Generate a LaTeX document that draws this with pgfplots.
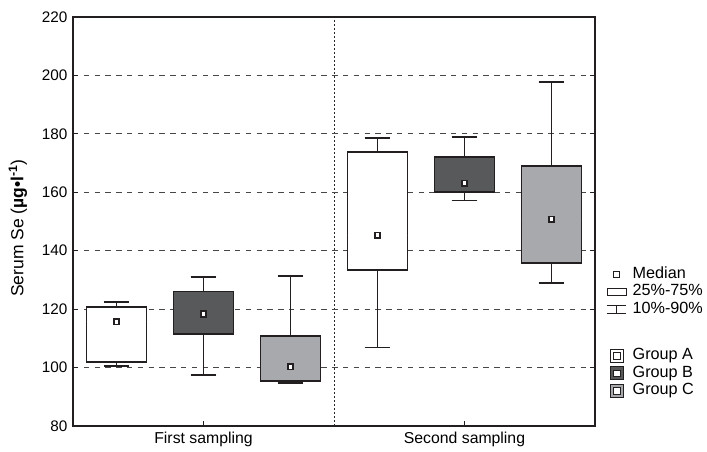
\documentclass[border=0pt]{standalone}
\usepackage{fontspec}
\setmainfont{Liberation Sans}
\usepackage{pgfplots}
\pgfplotsset{compat=1.18}
\usepgfplotslibrary{statistics}
\definecolor{gB}{HTML}{58595B}
\definecolor{gC}{HTML}{A7A9AC}
\definecolor{ink}{HTML}{231F20}
\begin{document}
\begin{tikzpicture}[font=\fontsize{15}{17}\selectfont]
\begin{axis}[
  name=ax,
  scale only axis, width=522pt, height=409pt,
  xmin=0, xmax=6, ymin=80, ymax=220,
  axis line style={ink, line width=1.5pt},
  xtick={1.5,4.5}, xticklabels={First sampling, Second sampling},
  xtick pos=bottom, x tick style={ink, line width=0.8pt},
  x tick label style={font=\fontsize{15.8}{17}\selectfont, yshift=-3pt},
  ytick={80,100,...,220}, ytick pos=both, y tick style={ink, line width=0.8pt},
  y tick label style={font=\fontsize{15.3}{17}\selectfont, xshift=-2pt},
  tick align=inside, major tick length=5pt,
  /pgf/number format/assume math mode=true,
  extra y ticks={100,120,...,200},
  extra y tick labels={},
  extra y tick style={grid=major, major grid style={black!72, line width=0.9pt, dash pattern=on 5.4pt off 5.4pt}},
  extra x ticks={3}, extra x tick labels={},
  extra x tick style={grid=major, major grid style={black!85, line width=0.8pt, dash pattern=on 1.5pt off 2.5pt}, major tick length=0pt},
  ylabel={Serum Se (\textbf{µg•l}\textsuperscript{\textbf{-1}})},
  ylabel style={font=\fontsize{17.5}{19}\selectfont, at={(axis description cs:-0.1054,0.484)}, anchor=center},
  boxplot/draw direction=y,
  boxplot/box extend=0.69,
  boxplot/whisker extend=0.295,
  boxplot/every median/.style={draw=none},
  legend style={draw=none, fill=none, at={(1,0.389)}, anchor=north west, xshift=11pt,
    inner sep=0pt, row sep=3pt, column sep=0pt,
    font=\fontsize{16.2}{18}\selectfont,
    nodes={inner sep=0pt, text height=11pt, text depth=3.5pt},
    /tikz/every odd column/.append style={column sep=6pt}},
  legend cell align=left,
]
% First sampling
\addplot[forget plot, boxplot prepared={draw position=0.5, lower whisker=100.5, lower quartile=102.0, median=115.7, upper quartile=120.8, upper whisker=122.4}, fill=white, draw=ink, line width=1.75pt, solid] coordinates {};
\addplot[forget plot, boxplot prepared={draw position=1.5, lower whisker=97.4, lower quartile=111.5, median=118.3, upper quartile=126.0, upper whisker=131.1}, fill=gB, draw=ink, line width=1.75pt, solid] coordinates {};
\addplot[forget plot, boxplot prepared={draw position=2.5, lower whisker=94.6, lower quartile=95.4, median=100.3, upper quartile=110.7, upper whisker=131.3}, fill=gC, draw=ink, line width=1.75pt, solid] coordinates {};
% Second sampling
\addplot[forget plot, boxplot prepared={draw position=3.5, lower whisker=106.9, lower quartile=133.3, median=145.3, upper quartile=173.8, upper whisker=178.7}, fill=white, draw=ink, line width=1.75pt, solid] coordinates {};
\addplot[forget plot, boxplot prepared={draw position=4.5, lower whisker=157.2, lower quartile=160.1, median=163.1, upper quartile=172.2, upper whisker=178.9}, fill=gB, draw=ink, line width=1.75pt, solid] coordinates {};
\addplot[forget plot, boxplot prepared={draw position=5.5, lower whisker=129.0, lower quartile=135.9, median=150.8, upper quartile=168.9, upper whisker=197.7}, fill=gC, draw=ink, line width=1.75pt, solid] coordinates {};
% medians
\addplot[forget plot, only marks, mark=square*, mark size=2.8pt, mark options={fill=white, draw=ink, line width=1.7pt, solid}] coordinates {
 (0.5,115.7) (1.5,118.3) (2.5,100.3) (3.5,145.3) (4.5,163.1) (5.5,150.8)};
% legend
\addlegendimage{legend image code/.code={\path[draw=none,fill=none] (0pt,-7pt) rectangle (20pt,7pt); \draw[fill=white, draw=ink, line width=1.3pt] (7pt,-3pt) rectangle (13pt,3pt);}}
\addlegendentry{Median}
\addlegendimage{legend image code/.code={\path[draw=none,fill=none] (0pt,-7pt) rectangle (20pt,7pt); \draw[fill=none, draw=ink, line width=0.9pt] (0.5pt,-3.3pt) rectangle (19.5pt,3.3pt);}}
\addlegendentry{25\%-75\%}
\addlegendimage{legend image code/.code={\path[draw=none,fill=none] (0pt,-7pt) rectangle (20pt,7pt); \draw[draw=ink, line width=0.9pt] (0pt,4pt) -- (19pt,4pt) (0pt,-4pt) -- (19pt,-4pt) (9.5pt,-4pt) -- (9.5pt,4pt);}}
\addlegendentry{10\%-90\%}
\addlegendimage{legend image code/.code={\path[draw=none,fill=none] (0pt,-13pt) rectangle (20pt,13pt);}}
\addlegendentry{}
\addlegendimage{legend image code/.code={\path[draw=none,fill=none] (0pt,-7pt) rectangle (20pt,7pt); \draw[fill=white, draw=ink, line width=1.2pt] (3.5pt,-6.5pt) rectangle (16.5pt,6.5pt); \draw[fill=white, draw=ink, line width=1pt] (6.5pt,-3.2pt) rectangle (13.5pt,3.2pt);}}
\addlegendentry{Group A}
\addlegendimage{legend image code/.code={\path[draw=none,fill=none] (0pt,-7pt) rectangle (20pt,7pt); \draw[fill=gB, draw=ink, line width=1.2pt] (3.5pt,-6.5pt) rectangle (16.5pt,6.5pt); \draw[fill=white, draw=ink, line width=1pt] (6.5pt,-3.2pt) rectangle (13.5pt,3.2pt);}}
\addlegendentry{Group B}
\addlegendimage{legend image code/.code={\path[draw=none,fill=none] (0pt,-7pt) rectangle (20pt,7pt); \draw[fill=gC, draw=ink, line width=1.2pt] (3.5pt,-6.5pt) rectangle (16.5pt,6.5pt); \draw[fill=white, draw=ink, line width=1pt] (6.5pt,-3.2pt) rectangle (13.5pt,3.2pt);}}
\addlegendentry{Group C}
\end{axis}
\pgfresetboundingbox
\path[use as bounding box] (ax.south west) ++(-73pt,-26pt) rectangle ++(707pt,452pt);
\end{tikzpicture}
\end{document}
